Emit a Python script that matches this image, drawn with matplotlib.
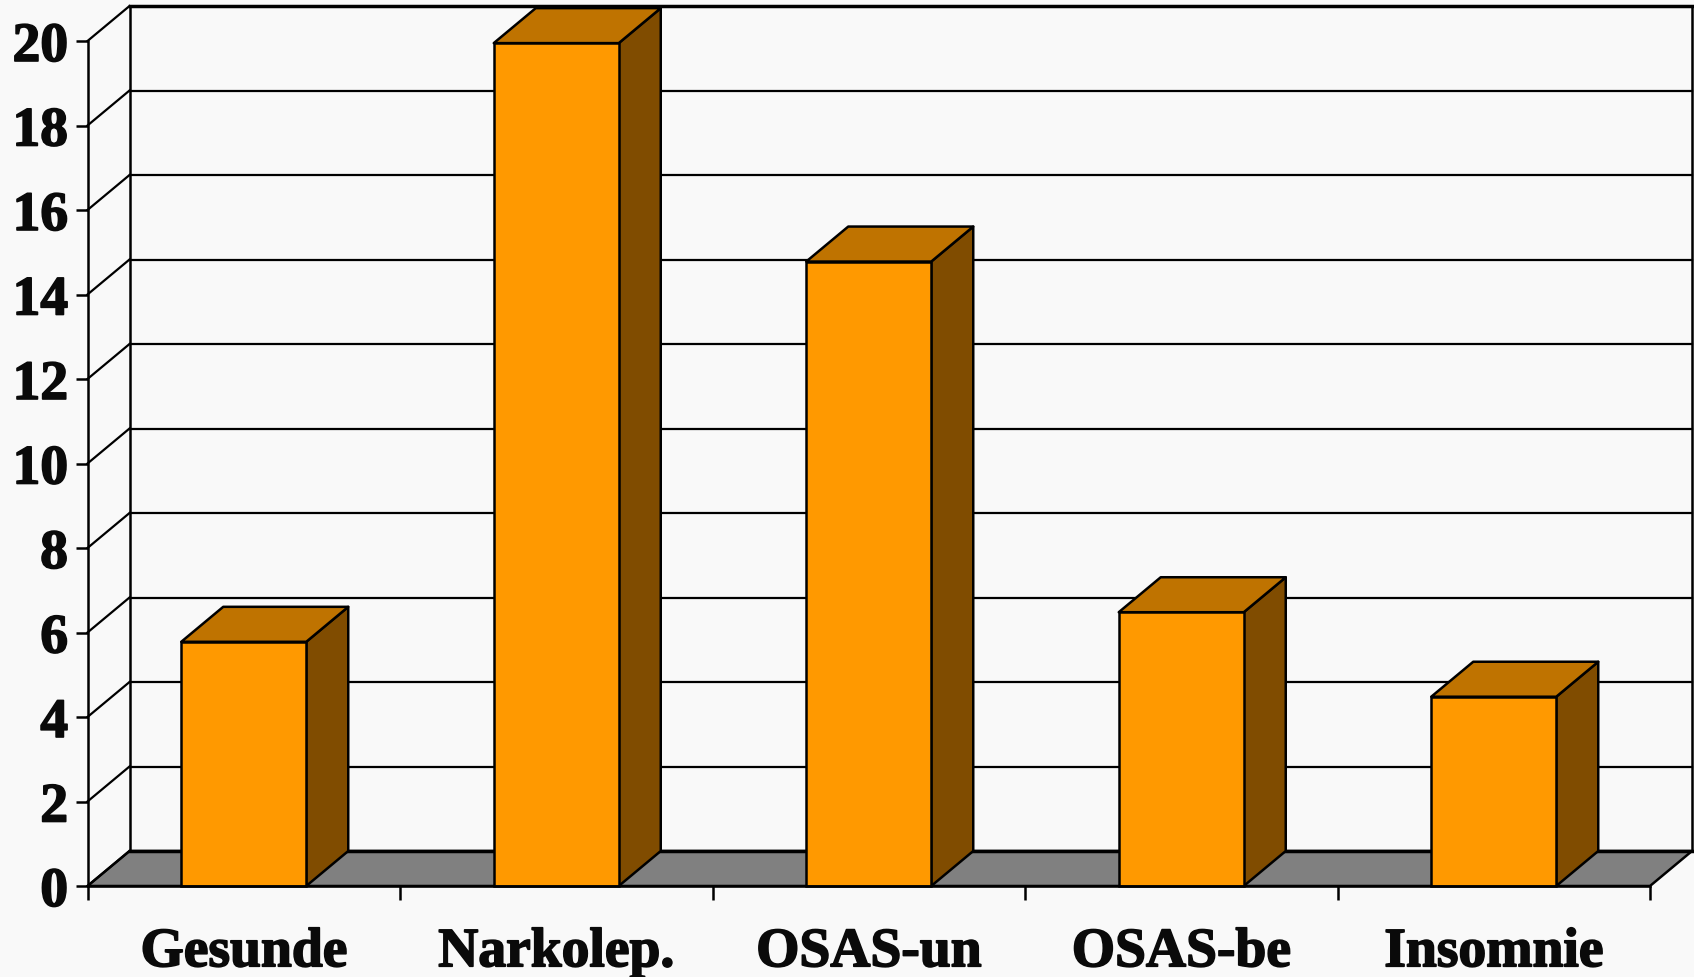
import numpy as np
import matplotlib
matplotlib.use("Agg")
import matplotlib.pyplot as plt
import matplotlib.patheffects as pe
from matplotlib.patches import Polygon

categories = ["Gesunde", "Narkolep.", "OSAS-un", "OSAS-be", "Insomnie"]
values = [5.78, 19.95, 14.78, 6.48, 4.48]
y_ticks = [0, 2, 4, 6, 8, 10, 12, 14, 16, 18, 20]

front_color = "#FF9900"
side_color = "#804C00"
top_color = "#BF7300"
floor_color = "#808080"
background = "#F9F9F9"
ink = "#000000"

# oblique offset of the back wall, in data units
depth_x = 0.1344
depth_y = 0.828
bar_width = 0.4
lw = 1.8
grid_lw = 1.6
heavy_lw = 2.5

W, H = 1694, 978
fig = plt.figure(figsize=(W / 100, H / 100), dpi=100, facecolor=background)
ax = fig.add_axes([87.5 / W, 1 - 887 / H, (1650 - 87.5) / W, (887 - 42) / H])
ax.set_xlim(0, len(categories))
ax.set_ylim(0, 20)
ax.patch.set_alpha(0)


def face(points, color, zorder, width=lw):
    ax.add_patch(Polygon(points, closed=True, facecolor=color, edgecolor=ink,
                         linewidth=width, joinstyle="round", clip_on=False,
                         zorder=zorder))


n = len(categories)
top_y = 20 + depth_y

# floor
face([(0, 0), (n, 0), (n + depth_x, depth_y), (depth_x, depth_y)], floor_color, 1)
ax.plot([depth_x, n + depth_x], [depth_y, depth_y], color=ink, lw=heavy_lw,
        clip_on=False, zorder=1.5)

# back wall grid and the left wall connectors
for tick in y_ticks:
    if tick > 0 and tick < 20:
        ax.plot([depth_x, n + depth_x], [tick + depth_y] * 2, color=ink, lw=grid_lw,
                clip_on=False, zorder=1)
    ax.plot([0, depth_x], [tick, tick + depth_y], color=ink, lw=grid_lw,
            clip_on=False, zorder=1)

ax.plot([depth_x, n + depth_x], [top_y, top_y], color=ink, lw=heavy_lw, clip_on=False, zorder=1)
ax.plot([depth_x, depth_x], [depth_y, top_y], color=ink, lw=lw, clip_on=False, zorder=1)
ax.plot([n + depth_x, n + depth_x], [depth_y, top_y], color=ink, lw=lw, clip_on=False, zorder=1)

# bars: front through the axes, then the side and top faces
centers = np.arange(n) + 0.5
ax.bar(centers, values, width=bar_width, color=front_color, edgecolor=ink,
       linewidth=lw, zorder=3, clip_on=False)
for c, v in zip(centers, values):
    left = c - bar_width / 2
    right = c + bar_width / 2
    face([(right, 0), (right + depth_x, depth_y), (right + depth_x, v + depth_y), (right, v)],
         side_color, 2.5)
    face([(left, v), (right, v), (right + depth_x, v + depth_y), (left + depth_x, v + depth_y)],
         top_color, 2.5)

for side in ["top", "right"]:
    ax.spines[side].set_visible(False)
for side in ["left", "bottom"]:
    ax.spines[side].set_linewidth(lw)
    ax.spines[side].set_zorder(4)

font = dict(family="Liberation Serif", fontweight="bold", fontsize=40, color="#0A0A0A")
heavier = [pe.withStroke(linewidth=1.2, foreground="#0A0A0A")]

ax.set_yticks(y_ticks)
ax.set_yticklabels([str(t) for t in y_ticks], **font)
ax.tick_params(axis="y", length=9, width=lw, pad=5, direction="out")

ax.set_xticks(np.arange(n + 1))
ax.set_xticklabels([])
ax.set_xticks(centers, minor=True)
ax.set_xticklabels(categories, minor=True, **font)
ax.tick_params(axis="x", which="major", length=10, width=lw, direction="out")
ax.tick_params(axis="x", which="minor", length=0, pad=29)

for label in ax.get_yticklabels() + ax.get_xticklabels(minor=True):
    label.set_path_effects(heavier)

fig.savefig("out.png", dpi=100, facecolor=background)
